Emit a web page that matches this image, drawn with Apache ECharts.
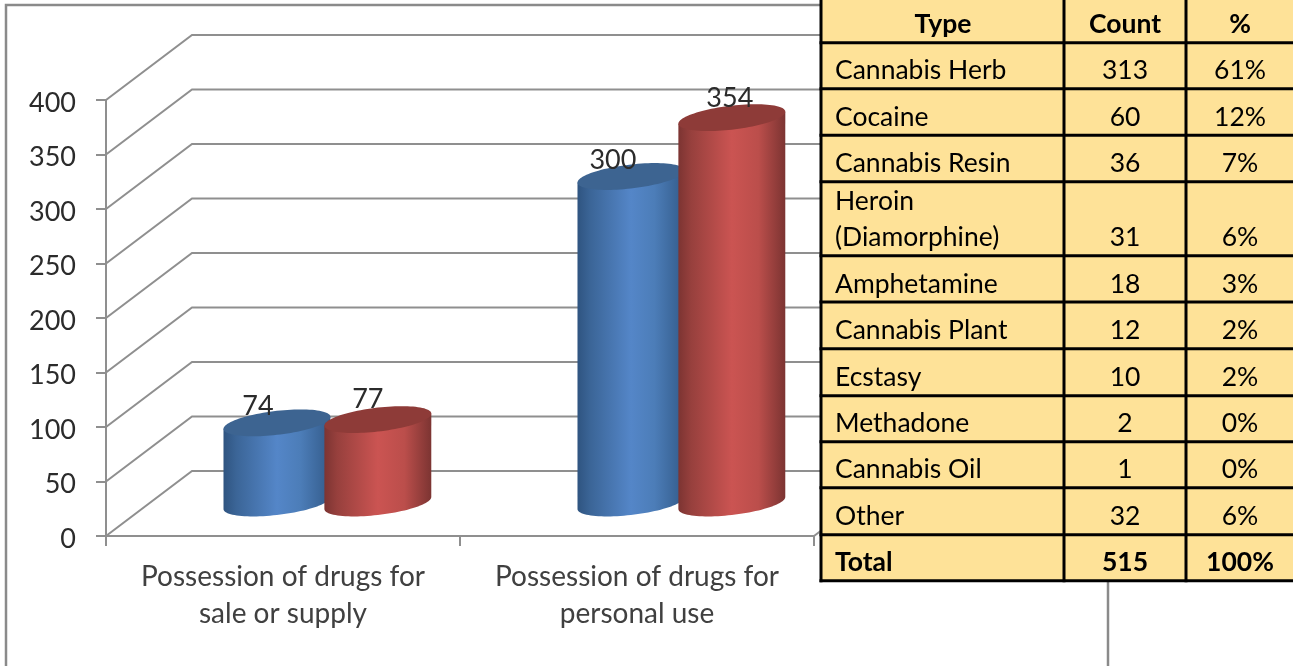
<!DOCTYPE html>
<html><head><meta charset="utf-8">
<style>html,body{margin:0;padding:0;background:#fff;overflow:hidden}#c{width:1293px;height:666px}</style>
<script src="https://cdn.jsdelivr.net/npm/echarts@6/dist/echarts.min.js"></script>
</head><body><div id="c"></div>
<script>
const categories = ['Possession of drugs for\nsale or supply', 'Possession of drugs for\npersonal use'];
const blueValues = [74, 300];
const redValues = [77, 354];
const yTicks = [0, 50, 100, 150, 200, 250, 300, 350, 400];

const tableHeader = ['Type', 'Count', '%'];
const tableTypes = ['Cannabis Herb', 'Cocaine', 'Cannabis Resin', 'Heroin\n(Diamorphine)', 'Amphetamine', 'Cannabis Plant', 'Ecstasy', 'Methadone', 'Cannabis Oil', 'Other'];
const tableCounts = ['313', '60', '36', '31', '18', '12', '10', '2', '1', '32'];
const tablePercents = ['61%', '12%', '7%', '6%', '3%', '2%', '2%', '0%', '0%', '6%'];
const tableTotal = ['Total', '515', '100%'];

// layout / style constants
const FONT = 'Lato, "Open Sans", sans-serif';
const DEPTH_X = 86, DEPTH_Y = 65;
const AXIS_COLOR = '#8f8f8f';
const rowLines = [42.7, 88.7, 135.3, 181.7, 255.7, 302, 348.7, 395.7, 441.7, 487.7, 534.7, 580.7];
const colLines = [821, 1064, 1186];
const colCenters = [0, 1125, 1240];
const TEXT_LEFT = 835;
const labelNudges = [[[-19, -17], [-18, -16]], [[-10, -20], [-2, -19]]];

function cylinder(color, seriesIndex, sign, spread) {
  return function (params, api) {
    const cat = api.value(0), val = api.value(1);
    const band = api.size([1, 0])[0];
    const base = api.coord([cat, 0]);
    const top = api.coord([cat, val]);
    const cx = base[0] + sign * band * spread + DEPTH_X / 2 + 0.5;
    const a = band * 0.151, tilt = 6, b = 12;
    const yBase = base[1] - DEPTH_Y / 2 - 0.5, yTop = top[1] - DEPTH_Y / 2;
    const P = (y, t) => [cx + Math.cos(t) * a, y - Math.cos(t) * tilt + Math.sin(t) * b];
    const body = [P(yTop, 0)], cap = [];
    for (let i = 0; i <= 48; i++) body.push(P(yBase, Math.PI * i / 48));
    body.push(P(yTop, Math.PI));
    for (let i = 0; i < 96; i++) cap.push(P(yTop, 2 * Math.PI * i / 96));
    const n = labelNudges[seriesIndex][params.dataIndexInside];
    return {
      type: 'group',
      children: [
        { type: 'polygon', shape: { points: body }, style: { fill: { type: 'linear', x: 0, y: 0, x2: 1, y2: 0, colorStops: color.stops } } },
        { type: 'polygon', shape: { points: cap }, style: { fill: color.cap } },
        { type: 'text', z2: 50, style: { text: String(val), x: cx + n[0], y: yTop + n[1], align: 'center', verticalAlign: 'middle', font: '27px ' + FONT, fill: '#2b2b2b' } }
      ]
    };
  };
}
const BLUE = { cap: '#3d6491', stops: [{ offset: 0, color: '#2f5480' }, { offset: .12, color: '#3b6597' }, { offset: .5, color: '#5486c8' }, { offset: .72, color: '#4c7db8' }, { offset: 1, color: '#335b8a' }] };
const RED = { cap: '#8e3b38', stops: [{ offset: 0, color: '#7c3432' }, { offset: .12, color: '#97403d' }, { offset: .5, color: '#cb5452' }, { offset: .75, color: '#bb4e4b' }, { offset: 1, color: '#7c3432' }] };

function wallRender(params, api) {
  const v = api.value(1);
  const cs = params.coordSys;
  const y = api.coord([0, v])[1];
  const kids = [{ type: 'polyline', shape: { points: [[cs.x, y], [cs.x + DEPTH_X, y - DEPTH_Y], [cs.x + cs.width + DEPTH_X, y - DEPTH_Y]] }, style: { fill: null, stroke: AXIS_COLOR, lineWidth: 2 } }];
  if (v === 0) kids.push({ type: 'line', shape: { x1: cs.x + cs.width, y1: y, x2: cs.x + cs.width + DEPTH_X, y2: y - DEPTH_Y }, style: { stroke: AXIS_COLOR, lineWidth: 2 } });
  return { type: 'group', children: kids };
}

// table
const graphics = [];
graphics.push({ type: 'rect', z: 0, shape: { x: 6, y: 5, width: 1102, height: 900 }, style: { fill: null, stroke: '#8a8a8a', lineWidth: 2.5 } });
const TZ = 100;
graphics.push({ type: 'rect', z: TZ, shape: { x: 820, y: 0, width: 480, height: rowLines[rowLines.length - 1] }, style: { fill: '#FEE298' } });
rowLines.forEach(y => graphics.push({ type: 'line', z: TZ + 1, shape: { x1: 819.5, y1: y, x2: 1300, y2: y }, style: { stroke: '#000', lineWidth: 3 } }));
colLines.forEach(x => graphics.push({ type: 'line', z: TZ + 1, shape: { x1: x, y1: 0, x2: x, y2: rowLines[rowLines.length - 1] + 1.5 }, style: { stroke: '#000', lineWidth: 3 } }));
function cell(text, x, y, align, bold) {
  graphics.push({ type: 'text', z: TZ + 2, style: { text, x, y, align, verticalAlign: 'middle', font: (bold ? 'bold ' : '') + '26.5px ' + FONT, fill: '#000' } });
}
tableHeader.forEach((t, i) => cell(t, i === 0 ? 943 : colCenters[i], rowLines[0] - 18, 'center', true));
tableTypes.forEach((t, r) => {
  const y = rowLines[r + 1] - 18;
  const parts = t.split('\n');
  parts.forEach((p, k) => cell(p, TEXT_LEFT, y - (parts.length - 1 - k) * 36, 'left', false));
  cell(tableCounts[r], colCenters[1], y, 'center', false);
  cell(tablePercents[r], colCenters[2], y, 'center', false);
});
const lastY = rowLines[rowLines.length - 1] - 18;
cell(tableTotal[0], TEXT_LEFT, lastY, 'left', true);
cell(tableTotal[1], colCenters[1], lastY, 'center', true);
cell(tableTotal[2], colCenters[2], lastY, 'center', true);

const chart = echarts.init(document.getElementById('c'));
chart.setOption({
  animation: false,
  backgroundColor: '#fff',
  grid: { left: 106, top: 100, width: 708, height: 436, containLabel: false },
  xAxis: {
    type: 'category', data: categories,
    axisLine: { show: true, lineStyle: { color: AXIS_COLOR, width: 2 } },
    axisTick: { show: true, length: 10, alignWithLabel: false, lineStyle: { color: AXIS_COLOR, width: 2 } },
    axisLabel: { interval: 0, margin: 22, fontFamily: FONT, fontSize: 28, lineHeight: 37, color: '#404040' },
    splitLine: { show: false }
  },
  yAxis: {
    type: 'value', min: 0, max: 400, interval: 50,
    axisLine: { show: true, lineStyle: { color: AXIS_COLOR, width: 2 } },
    axisTick: { show: true, length: 10, lineStyle: { color: AXIS_COLOR, width: 2 } },
    axisLabel: { margin: 30, fontFamily: FONT, fontSize: 27, color: '#2b2b2b', verticalAlign: 'top', lineHeight: 6 },
    splitLine: { show: false }
  },
  graphic: graphics,
  series: [
    { type: 'custom', name: 'walls', coordinateSystem: 'cartesian2d', silent: true, z: 1, renderItem: wallRender, encode: { x: 0, y: 1 }, data: yTicks.map(v => [0, v]) },
    { type: 'custom', name: 'Series 1', coordinateSystem: 'cartesian2d', z: 3, renderItem: cylinder(BLUE, 0, -1, 0.14), encode: { x: 0, y: 1 }, data: blueValues.map((v, i) => [i, v]) },
    { type: 'custom', name: 'Series 2', coordinateSystem: 'cartesian2d', z: 4, renderItem: cylinder(RED, 1, 1, 0.145), encode: { x: 0, y: 1 }, data: redValues.map((v, i) => [i, v]) }
  ]
});
</script></body></html>
